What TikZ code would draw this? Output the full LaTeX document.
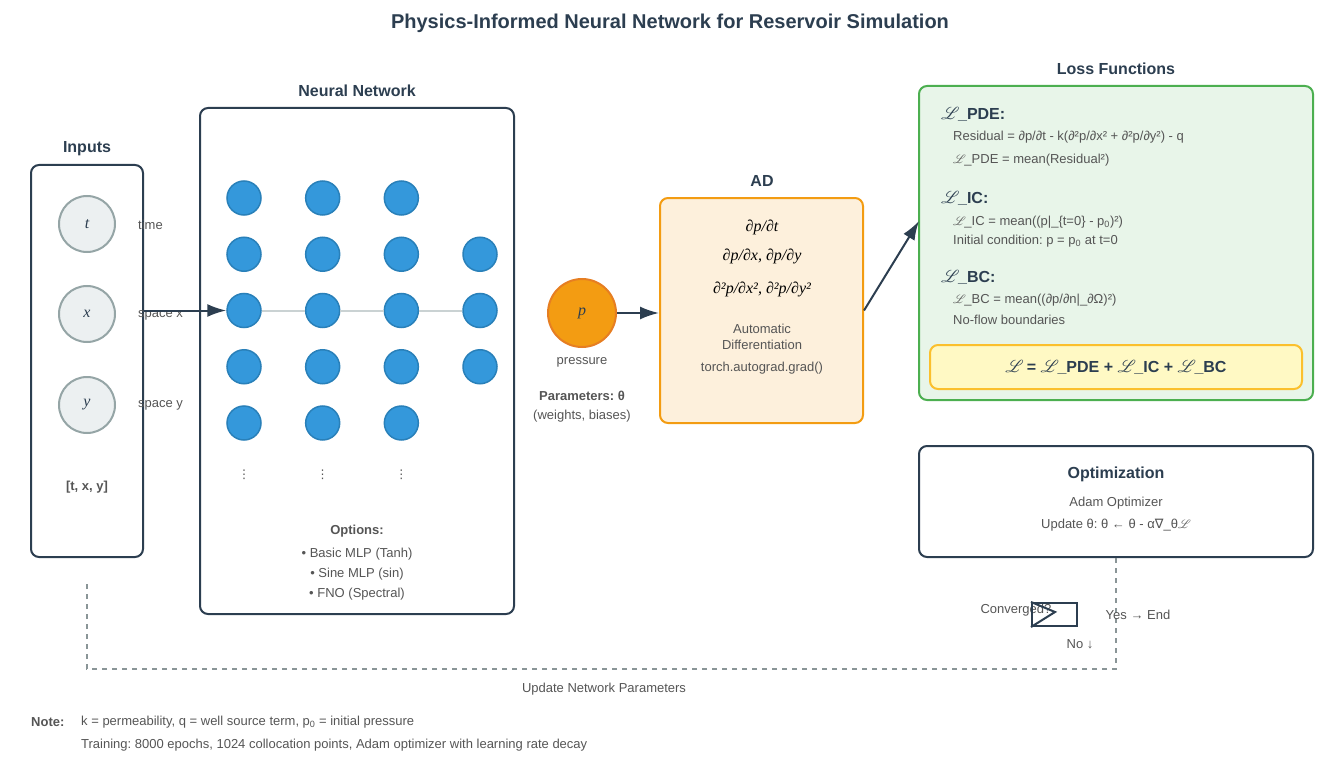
\documentclass[tikz,border=0pt]{standalone}
\usepackage{fontspec}
\setmainfont{Liberation Sans}
\newfontfamily\serifface{Liberation Serif}
\newfontfamily\dejavu{DejaVu Sans}
\usepackage{mathrsfs}
\usetikzlibrary{arrows.meta, positioning, calc}
\frenchspacing

\definecolor{dark}{HTML}{2C3E50}
\definecolor{textgray}{HTML}{555555}
\definecolor{incirclefill}{HTML}{ECF0F1}
\definecolor{incircledraw}{HTML}{95A5A6}
\definecolor{neuronfill}{HTML}{3498DB}
\definecolor{neurondraw}{HTML}{2980B9}
\definecolor{outfill}{HTML}{F39C12}
\definecolor{outdraw}{HTML}{E67E22}
\definecolor{adfill}{HTML}{FDF0DC}
\definecolor{lossfill}{HTML}{E8F5E9}
\definecolor{lossdraw}{HTML}{4CAF50}
\definecolor{totalfill}{HTML}{FFF9C4}
\definecolor{totaldraw}{HTML}{FBC02D}
\definecolor{loopgray}{HTML}{8A9597}

\newcommand{\Ls}{$\mathscr{L}$\kern-1.5pt}

\begin{document}
\begin{tikzpicture}[x=1pt, y=-1pt,
    box/.style={draw=dark, line width=2, rounded corners=8, inner sep=0},
    head/.style={font=\fontsize{16}{19}\selectfont\bfseries, text=dark, inner sep=0},
    txt/.style={font=\fontsize{13}{16}\selectfont, text=textgray, inner sep=0, align=center},
    incirc/.style={circle, draw=incircledraw, fill=incirclefill, line width=2, minimum size=56, inner sep=0, font=\fontsize{16}{19}\selectfont\serifface\itshape, text=dark},
    neuron/.style={circle, draw=neurondraw, fill=neuronfill, line width=1.5, minimum size=34, inner sep=0},
    flow/.style={-{Latex[length=19pt, width=13pt]}, dark, line width=2}]
  \useasboundingbox (0,0) rectangle (1339,765);

  \node[font=\fontsize{20}{24}\selectfont\bfseries, text=dark] (title) at (670,23) {Physics-Informed Neural Network for Reservoir Simulation};

  \node[box, minimum width=112, minimum height=392] (inputs) at (87,361) {};
  \node[head] (inputslab) at (87,149) {Inputs};
  \node[incirc] (tin) at (87,224) {t};
  \node[incirc] (xin) at (87,314) {x};
  \node[incirc] (yin) at (87,405) {y};
  \node[txt, anchor=west] (tlab) at (138,225) {time};
  \node[txt, anchor=west] (xlab) at (138,315) {space x};
  \node[txt, anchor=west] (ylab) at (138,405) {space y};
  \node[txt, font=\fontsize{13}{16}\selectfont\bfseries] (vec) at (87,487) {[t, x, y]};

  \node[box, minimum width=314, minimum height=506] (nn) at (357,361) {};
  \node[head] (nnlab) at (357,91) {Neural Network};
  \foreach \c in {1,2,3}
    \foreach \r in {1,...,5}
      \node[neuron] (n\c\r) at ({244+78.67*(\c-1)},{198+56.25*(\r-1)}) {};
  \foreach \r in {2,3,4}
    \node[neuron] (n4\r) at (480,{198+56.25*(\r-1)}) {};
  \draw[incircledraw!50, line width=2] (n13) -- (n23) (n23) -- (n33) (n33) -- (n43);
  \foreach \c in {1,2,3}
    \node[txt, font=\fontsize{12}{14}\selectfont\dejavu] (dots\c) at ({244+78.67*(\c-1)},475) {⋮};
  \node[txt, font=\fontsize{13}{16}\selectfont\bfseries] (optlab) at (357,531) {Options:};
  \node[txt] (opt1) at (357,554) {• Basic MLP (Tanh)};
  \node[txt] (opt2) at (357,574) {• Sine MLP (sin)};
  \node[txt] (opt3) at (357,594) {• FNO (Spectral)};

  \draw[flow] (inputs.east |- n13) -- (n13.west);

  \node[circle, draw=outdraw, fill=outfill, line width=2, minimum size=68, inner sep=0,
    font=\fontsize{16}{19}\selectfont\serifface\itshape, text=dark] (pout) at (582,313) {p};
  \node[txt] (plab) at (582,362) {pressure};
  \node[txt, font=\fontsize{13}{16}\selectfont\bfseries] (params) at (582,396) {Parameters: θ};
  \node[txt] (paramsub) at (582,416) {(weights, biases)};

  \node[box, draw=outfill, fill=adfill, minimum width=203, minimum height=225] (ad) at (761.5,310.5) {};
  \node[head] (adlab) at (762,181) {AD};
  \node[font=\fontsize{16}{19}\selectfont\serifface\itshape, text=black, inner sep=0] (d1) at (762,227) {∂p/∂t};
  \node[font=\fontsize{16}{19}\selectfont\serifface\itshape, text=black, inner sep=0] (d2) at (762,256) {∂p/∂x, ∂p/∂y};
  \node[font=\fontsize{16}{19}\selectfont\serifface\itshape, text=black, inner sep=0] (d3) at (762,289) {∂²p/∂x², ∂²p/∂y²};
  \node[txt] (adtxt) at (762,337) {Automatic\\Differentiation};
  \node[txt] (torch) at (762,368) {torch.autograd.grad()};

  \draw[flow] (pout) -- (ad.west |- pout);

  \node[box, draw=lossdraw, fill=lossfill, minimum width=394, minimum height=314] (loss) at (1116,243) {};
  \node[head] (losslab) at (1116,69) {Loss Functions};
  \node[head, anchor=west] (pdehead) at (941,114) {\Ls\_PDE:};
  \node[txt, anchor=west] (pde1) at (953,137) {Residual = ∂p/∂t - k(∂²p/∂x² + ∂²p/∂y²) - q};
  \node[txt, anchor=west] (pde2) at (953,160) {\Ls\_PDE = mean(Residual²)};
  \node[head, anchor=west] (ichead) at (941,198) {\Ls\_IC:};
  \node[txt, anchor=west] (ic1) at (953,222) {\Ls\_IC = mean((p|\_\{t=0\} - p\textsubscript{0})²)};
  \node[txt, anchor=west] (ic2) at (953,241) {Initial condition: p = p\textsubscript{0} at t=0};
  \node[head, anchor=west] (bchead) at (941,277) {\Ls\_BC:};
  \node[txt, anchor=west] (bc1) at (953,300) {\Ls\_BC = mean((∂p/∂n|\_∂Ω)²)};
  \node[txt, anchor=west] (bc2) at (953,320) {No-flow boundaries};
  \node[box, draw=totaldraw, fill=totalfill, minimum width=372, minimum height=44] (total) at (1116,367) {};
  \node[head] (totaltxt) at (1116,367) {\Ls{} = \Ls\_PDE + \Ls\_IC + \Ls\_BC};

  \coordinate (lossin) at (919,221);
  \draw[flow] (ad.east) -- (lossin);

  \node[box, fill=white, minimum width=394, minimum height=111] (opt) at (1116,501.5) {};
  \node[head] (optimlab) at (1116,474) {Optimization};
  \node[txt] (adam) at (1116,503) {Adam Optimizer};
  \node[txt] (update) at (1116,525) {Update θ: θ ← θ - α{\dejavu ∇}\_θ$\mathscr{L}$};

  \coordinate (loopcorner) at (1116,669);
  \coordinate (loopend) at (87,580);
  \draw[loopgray, line width=1.5, dash pattern=on 5 off 5] (opt.south) -- (loopcorner) -| (loopend);
  \node[txt] (updnet) at (604,689) {Update Network Parameters};

  \node[txt] (convlab) at (1016,610) {Converged?};
  \node[draw=dark, line width=2, minimum width=45, minimum height=23, inner sep=0] (conv) at (1054.5,614.5) {};
  \draw[dark, line width=2] (conv.north west) -- ++(24,10) -- (conv.south west);
  \node[txt] (yes) at (1138,615) {Yes → End};
  \node[txt] (no) at (1080,644) {No ↓};

  \node[txt, font=\fontsize{13}{16}\selectfont\bfseries, anchor=west] (notelab) at (31,722) {Note:};
  \node[txt, anchor=west] (note1) at (81,722) {k = permeability, q = well source term, p\textsubscript{0} = initial pressure};
  \node[txt, anchor=west] (note2) at (81,745) {Training: 8000 epochs, 1024 collocation points, Adam optimizer with learning rate decay};
\end{tikzpicture}
\end{document}
